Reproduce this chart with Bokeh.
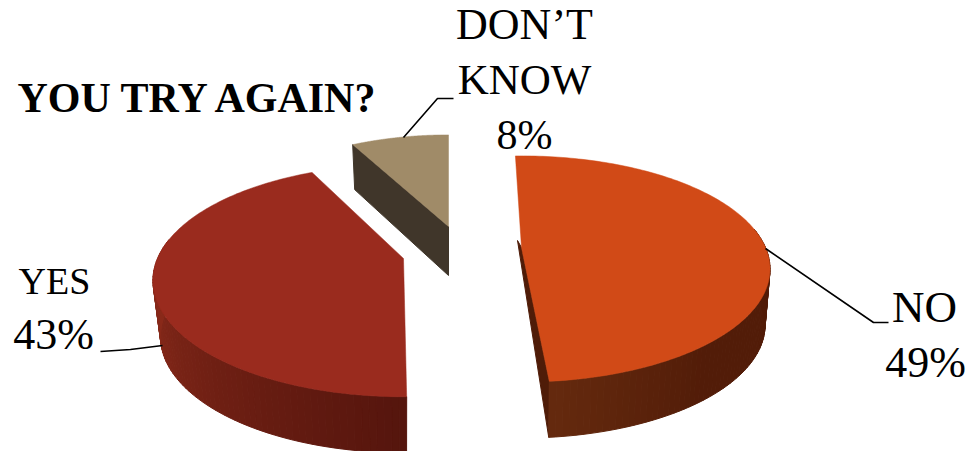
import numpy as np
from bokeh.plotting import figure
from bokeh.models import Range1d
from bokeh.core.properties import value
from bokeh.embed import file_html
from bokeh.resources import INLINE

# data
categories = ["NO", "YES", "DON'T KNOW"]
shares = [49, 43, 8]
title_text = "YOU TRY AGAIN?"

# style / layout
face = ["#d14a17", "#9a2b1e", "#a08b68"]
side_a = ["#652a0e", "#55150d", "#40362a"]
side_b = ["#521c08", "#8a2a1a", "#40362a"]
centre = [(521, 247), (403, 258), (448, 226)]
rx = [244, 246, 232]
ry = [109, 112, 109]
depth = [56, 56, 47]
taper = [0.98, 0.97, 1.0]
turn = [-1.7, 3.0, 0.0]
persp = 0.19
BASE = 16
FONT = value("Liberation Serif")


def proj(i, deg):
    t = np.radians(deg)
    w = 1 + persp * np.cos(t)
    return (centre[i][0] + rx[i] * np.sin(t) / w,
            centre[i][1] - ry[i] * np.cos(t) / w)


def lerp_hex(a, b, f):
    ca = [int(a[k:k + 2], 16) for k in (1, 3, 5)]
    cb = [int(b[k:k + 2], 16) for k in (1, 3, 5)]
    return "#%02x%02x%02x" % tuple(round(u + (v - u) * f) for u, v in zip(ca, cb))


p = figure(width=972, height=451, x_range=Range1d(0, 972), y_range=Range1d(451, 0),
           x_axis_type=None, y_axis_type=None, toolbar_location=None,
           output_backend="svg", min_border=0, outline_line_color=None,
           background_fill_color="white", border_fill_color="white")
p.grid.visible = False

sweeps = np.array(shares) / sum(shares) * 360.0
starts = np.concatenate([[0.0], np.cumsum(sweeps)[:-1]])

for i in [2, 1, 0]:
    a0 = starts[i] + turn[i]
    a1 = a0 + sweeps[i]
    d = depth[i]
    cx, cy = centre[i]
    low = lambda x: cx + (x - cx) * taper[i]
    w0 = max(a0, 80.0)
    w1 = min(a1, 280.0)
    n = 70
    th = np.linspace(w0, w1, n + 1)
    xs, ys, cols = [], [], []
    for k in range(n):
        xa, ya = proj(i, th[k])
        xb, yb = proj(i, th[k + 1])
        xs.append([xa, xb, low(xb), low(xa)])
        ys.append([ya, yb, yb + d, ya + d])
        if i == 1:
            f = min(1.0, (k + 0.5) / n / 0.85)
        else:
            f = min(1.0, abs(th[k] - w1) / 35)
        cols.append(lerp_hex(side_a[i], side_b[i], f))
    if i == 0:
        xe, ye = proj(i, a1)
        p.patch([cx, xe, low(xe), cx - 4], [cy, ye, ye + d, cy - 7], color="#4f1c08")
    if i == 2:
        xe, ye = proj(i, a0)
        p.patch([cx, xe, xe + 2, cx], [cy, ye, ye + d - 2, cy + d + 2], color=side_a[i])
    else:
        p.patches(xs, ys, fill_color=cols, line_color=cols, line_width=1)
    th = np.linspace(a0, a1, 160)
    fx, fy = proj(i, th)
    p.patch(np.r_[cx, fx], np.r_[cy, fy], color=face[i], line_width=0.5)

# leader lines
p.line([765, 873, 888], [248, 322, 322], line_color="black", line_width=1.6)
p.line([162, 130, 100], [345, 349, 351], line_color="black", line_width=1.6)
p.line([403, 437, 453], [137, 98, 98], line_color="black", line_width=1.6)

# labels
def lbl(x, y, s, size="43px", style="normal", align="center"):
    p.text([x], [y - BASE], text=[s], text_font=FONT, text_font_size=value(size),
           text_font_style=value(style), text_align=value(align),
           text_baseline=value("alphabetic"), text_color="black")

lbl(524, 40, "DON’T", size="44px")
lbl(524, 95, "KNOW", size="43px")
lbl(524, 150, f"{shares[2]}%", size="42px")
lbl(54, 296, categories[1], size="38px")
lbl(53, 350, f"{shares[1]}%", size="44px")
lbl(924, 322, categories[0], size="45px")
lbl(925, 378, f"{shares[0]}%", size="44px")
lbl(17, 113, title_text, size="42px", style="bold", align="left")

open("out.html", "w").write(file_html(p, INLINE))
